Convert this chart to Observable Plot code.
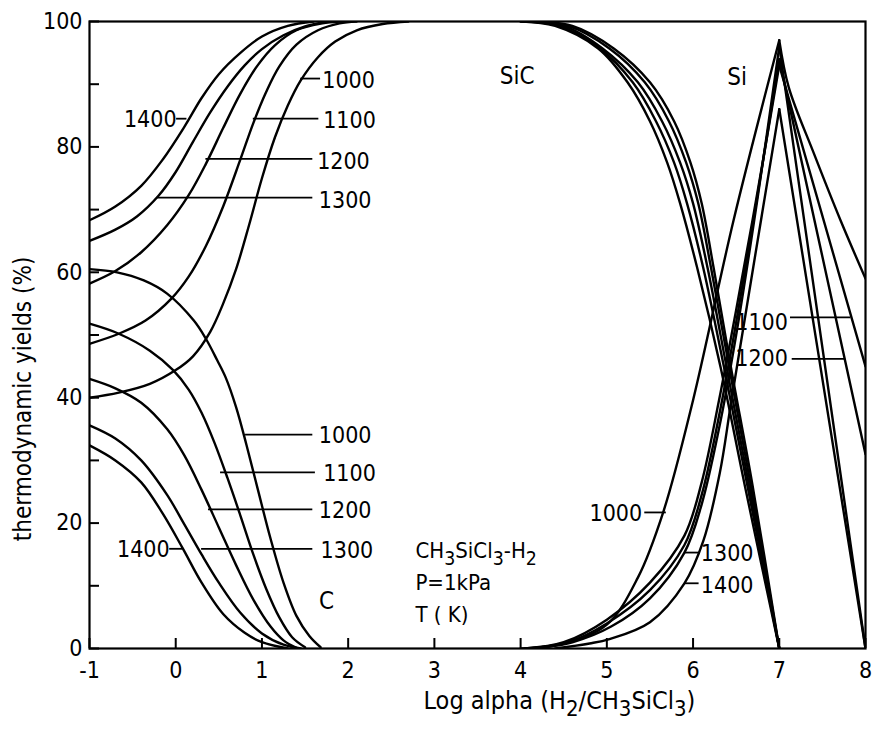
<!DOCTYPE html>
<html><head><meta charset="utf-8">
<script src="https://cdn.jsdelivr.net/npm/d3@7"></script>
<script src="https://cdn.jsdelivr.net/npm/@observablehq/plot@0.6"></script>
<style>html,body{margin:0;padding:0;background:#fff}svg{display:block}</style>
</head><body><div id="chart"></div>
<script>
const temps = ["1000", "1100", "1200", "1300", "1400"];

// SiC yield, rising part (low alpha side), [log alpha, %]
const sicRise1000 = [[-1,40],[-0.66,40.8],[-0.3,42.2],[0,44.4],[0.2,46.6],[0.4,50.5],[0.55,55],[0.7,60.5],[0.85,67.5],[1.0,75],[1.15,81.5],[1.3,86.6],[1.45,90.6],[1.65,94.3],[1.85,96.8],[2.1,98.6],[2.4,99.6],[2.7,100]];
const sicRise1100 = [[-1,48.6],[-0.66,50.2],[-0.35,52.3],[-0.05,55.8],[0.15,59.3],[0.35,64.2],[0.55,70.5],[0.75,78],[0.9,83.8],[1.05,88.8],[1.2,92.8],[1.4,96.3],[1.65,98.6],[1.9,99.7],[2.1,100]];
const sicRise1200 = [[-1,58.2],[-0.7,60.2],[-0.4,63.2],[-0.1,67.5],[0.15,72.3],[0.35,77.3],[0.55,83],[0.75,88.5],[0.95,93],[1.15,96.2],[1.4,98.6],[1.7,99.7],[1.9,100]];
const sicRise1300 = [[-1,65],[-0.7,66.8],[-0.45,68.9],[-0.2,72.2],[0,76],[0.2,80.8],[0.4,85.5],[0.6,89.6],[0.8,93],[1.0,95.6],[1.25,97.8],[1.5,99.2],[1.75,100]];
const sicRise1400 = [[-1,68.3],[-0.7,70.5],[-0.4,73.8],[-0.15,78],[0.1,83.2],[0.3,87.8],[0.5,91.6],[0.75,95],[1.0,97.6],[1.3,99.3],[1.6,100]];

// SiC yield, falling part (high alpha side): yields and the log alpha where each curve has them
const sicFallYield = [100, 99.3, 95.7, 90.3, 84.1, 77.5, 71, 60.6, 44.8, 26, 0];
const sicFallX1000 = [4.0, 4.4, 4.9, 5.24, 5.5, 5.7, 5.85, 6.05, 6.32, 6.6, 7.0];
const sicFallX1100 = [4.0, 4.45, 4.92, 5.3, 5.57, 5.78, 5.93, 6.12, 6.36, 6.63, 7.0];
const sicFallX1200 = [4.05, 4.5, 4.95, 5.36, 5.64, 5.85, 6.0, 6.17, 6.39, 6.65, 7.0];
const sicFallX1300 = [4.1, 4.55, 5.03, 5.44, 5.72, 5.92, 6.06, 6.21, 6.42, 6.67, 7.0];
const sicFallX1400 = [4.12, 4.6, 5.08, 5.5, 5.78, 5.97, 6.1, 6.24, 6.44, 6.69, 7.0];

// C yield
const c1000 = [[-1,60.5],[-0.68,60],[-0.37,58.7],[-0.1,56.6],[0.21,52.3],[0.35,49.4],[0.48,46],[0.58,43.2],[0.7,38.5],[0.82,32.5],[0.95,25.5],[1.1,17.5],[1.25,10.5],[1.4,5.2],[1.55,2],[1.68,0.2]];
const c1100 = [[-1,51.8],[-0.66,50.2],[-0.3,47.5],[-0.03,44.4],[0.15,41.3],[0.3,37.6],[0.45,32.8],[0.6,27.2],[0.75,21.2],[0.9,15],[1.05,9.5],[1.2,5],[1.35,1.8],[1.5,0.2]];
const c1200 = [[-1,43],[-0.7,41.5],[-0.4,39.2],[-0.1,35],[0.1,30.8],[0.3,25.3],[0.5,19.3],[0.7,13.3],[0.9,7.8],[1.1,3.5],[1.25,1.3],[1.4,0.1]];
const c1300 = [[-1,35.6],[-0.7,33.5],[-0.4,30],[-0.1,24.5],[0.1,19.8],[0.3,15],[0.5,10.5],[0.75,5.7],[1.0,2.4],[1.25,0.6],[1.45,0]];
const c1400 = [[-1,32.4],[-0.7,30],[-0.4,26.5],[-0.15,21.5],[0.08,16],[0.3,10.5],[0.55,5.5],[0.8,2.5],[1.0,1.0],[1.3,0]];

// Si yield, rising to the peak at log alpha = 7, then falling
const siRise1000 = [[4.0,0],[4.5,0.8],[5.0,3.8],[5.36,11.3],[5.66,22],[6.0,39.6],[6.47,68.3],[7,97]];
const siRise1100 = [[4.05,0],[4.5,1],[5.0,4.6],[5.5,10.5],[5.9,18],[6.1,26.5],[6.3,39.5],[6.5,54],[6.75,73],[7,93]];
const siRise1200 = [[4.1,0],[4.55,1],[5.0,4],[5.5,9.3],[5.9,16.5],[6.1,24.5],[6.3,37],[6.5,52],[6.75,72.5],[7,94]];
const siRise1300 = [[4.15,0],[4.6,1],[5.05,3.5],[5.5,8],[5.9,15.3],[6.1,23],[6.3,35],[6.5,50],[6.75,72],[7,96]];
const siRise1400 = [[4.4,0],[4.8,0.8],[5.03,1.5],[5.5,4.2],[5.9,10.4],[6.12,17.2],[6.31,28],[6.45,40],[7,86]];
const siFall1000 = [[7,97],[7.11,89.5],[7.4,79],[7.71,68.3],[8,59]];
const siFall1100 = [[7,93],[8,45]];
const siFall1200 = [[7,94],[8,31]];
const siFall1300 = [[7,96],[8,0]];
const siFall1400 = [[7,86],[8,0]];

// Temperature labels: text, x of text, y, leader from x1 to x2, anchor
const labelText   = ["1000","1100","1200","1300","1400", "1000","1100","1200","1300","1400", "1000","1300","1400","1100","1200"];
const labelX      = [1.70, 1.71, 1.64, 1.66, 0.01,   1.66, 1.71, 1.66, 1.68, -0.07,   5.41, 6.09, 6.09, 7.10, 7.10];
const labelY      = [90.6, 84.2, 77.6, 71.5, 84.4,   34.0, 27.9, 22.0, 15.6, 15.7,    21.5, 15.1, 10.0, 52.0, 46.2];
const leaderX1    = [1.45, 0.9, 0.35, -0.21, 0.01,   0.81, 0.52, 0.38, 0.3, -0.07,    5.44, 5.90, 5.90, 7.13, 7.15];
const leaderX2    = [1.68, 1.66, 1.59, 1.59, 0.13,   1.59, 1.62, 1.59, 1.59, 0.08,    5.69, 6.08, 6.07, 7.83, 7.77];
const leaderY     = [90.9, 84.5, 78.1, 71.9, 84.5,   34.1, 28.1, 22.2, 15.9, 15.9,    21.7, 15.3, 10.4, 52.8, 46.2];
const labelAnchor = ["start","start","start","start","end", "start","start","start","start","end", "end","start","start","end","end"];

// Species names and conditions
const speciesText = ["SiC", "Si", "C"];
const speciesX = [3.96, 6.51, 1.75];
const speciesY = [91.3, 91.1, 7.6];
const noteText = ["CH3SiCl3-H2", "P=1kPa", "T ( K)"];
const noteX = [2.78, 2.78, 2.78];
const noteY = [15.6, 10.4, 5.3];

const yTicks = [0,10,20,30,40,50,60,70,80,90,100];
const yTickLabels = [0,20,40,60,80,100];
const xTicks = [-1,0,1,2,3,4,5,6,7,8];
const xTitle = "Log alpha (H2/CH3SiCl3)";
const yTitle = "thermodynamic yields (%)";

// ---- build tables ----
const rows = (arrs) => arrs.flatMap((a, i) => a.map(([x, y]) => ({x, y, T: temps[i]})));
const sicRise = rows([sicRise1000, sicRise1100, sicRise1200, sicRise1300, sicRise1400]);
const sicFall = [sicFallX1000, sicFallX1100, sicFallX1200, sicFallX1300, sicFallX1400]
  .flatMap((xs, i) => xs.map((x, j) => ({x, y: sicFallYield[j], T: temps[i]})));
const cYield  = rows([c1000, c1100, c1200, c1300, c1400]);
const siRise  = rows([siRise1000, siRise1100, siRise1200, siRise1300, siRise1400]);
const siFall  = rows([siFall1000, siFall1100, siFall1200, siFall1300, siFall1400]);

const labels = labelText.map((t, i) => ({t, x: labelX[i], y: labelY[i], x1: leaderX1[i], x2: leaderX2[i], ly: leaderY[i], a: labelAnchor[i]}));
const species = speciesText.map((t, i) => ({t, x: speciesX[i], y: speciesY[i]}));
const notes = noteText.map((t, i) => ({t, x: noteX[i], y: noteY[i]}));

const FONT = "'DejaVu Sans Condensed', 'DejaVu Sans', sans-serif";
const lineOpts = {x: "x", y: "y", z: "T", curve: "catmull-rom", stroke: "black", strokeWidth: 2.4, clip: true};

const plot = Plot.plot({
  width: 876,
  height: 729,
  marginLeft: 89,
  marginRight: 11,
  marginTop: 21,
  marginBottom: 81,
  x: {domain: [-1, 8]},
  y: {domain: [0, 100]},
  style: {fontFamily: FONT, fontSize: "23px", color: "black", background: "white"},
  marks: [
    Plot.line(sicRise, lineOpts),
    Plot.line(sicFall, lineOpts),
    Plot.line(cYield, lineOpts),
    Plot.line(siRise, lineOpts),
    Plot.line(siFall, lineOpts),
    Plot.frame({stroke: "black", strokeWidth: 2.2}),
    Plot.axisY(yTicks, {tickSize: -10, tickFormat: () => "", label: null, strokeWidth: 2}),
    Plot.axisY(yTickLabels, {tickSize: 0, tickPadding: 7, label: null, fontSize: 23}),
    Plot.axisX(xTicks, {tickSize: -10, tickFormat: () => "", label: null, strokeWidth: 2}),
    Plot.axisX(xTicks, {tickSize: 0, tickPadding: 13, label: null, fontSize: 23, tickFormat: d => String(d)}),
    Plot.ruleY(labels, {y: "ly", x1: "x1", x2: "x2", stroke: "black", strokeWidth: 1.8}),
    Plot.text(labels.filter(d => d.a === "start"), {x: "x", y: "y", text: "t", textAnchor: "start", fontSize: 23}),
    Plot.text(labels.filter(d => d.a === "end"), {x: "x", y: "y", text: "t", textAnchor: "end", fontSize: 23}),
    Plot.text(species, {x: "x", y: "y", text: "t", textAnchor: "middle", fontSize: 24}),
    Plot.text(notes, {x: "x", y: "y", text: "t", textAnchor: "start", fontSize: 22}),
    Plot.text([yTitle], {frameAnchor: "left", y: [39.8], text: d => d, rotate: -90, textAnchor: "middle", dx: -66, fontSize: 24}),
    Plot.text([xTitle], {frameAnchor: "bottom", x: [4.45], text: d => d, textAnchor: "middle", dy: 60, fontSize: 25})
  ]
});

// render chemical formulas with subscript digits
const subTexts = new Set([xTitle, "CH3SiCl3-H2"]);
d3.select(plot).selectAll("text").each(function () {
  const t = this.textContent;
  if (!subTexts.has(t)) return;
  this.textContent = "";
  const parts = t.match(/\d+|\D+/g);
  let low = false;
  for (const p of parts) {
    const isNum = /^\d+$/.test(p);
    const ts = d3.select(this).append("tspan").text(p);
    if (isNum) { ts.attr("font-size", "88%"); if (!low) { ts.attr("dy", "7"); low = true; } }
    else if (low) { ts.attr("dy", "-7"); low = false; }
  }
});

document.getElementById("chart").appendChild(plot);
</script></body></html>
